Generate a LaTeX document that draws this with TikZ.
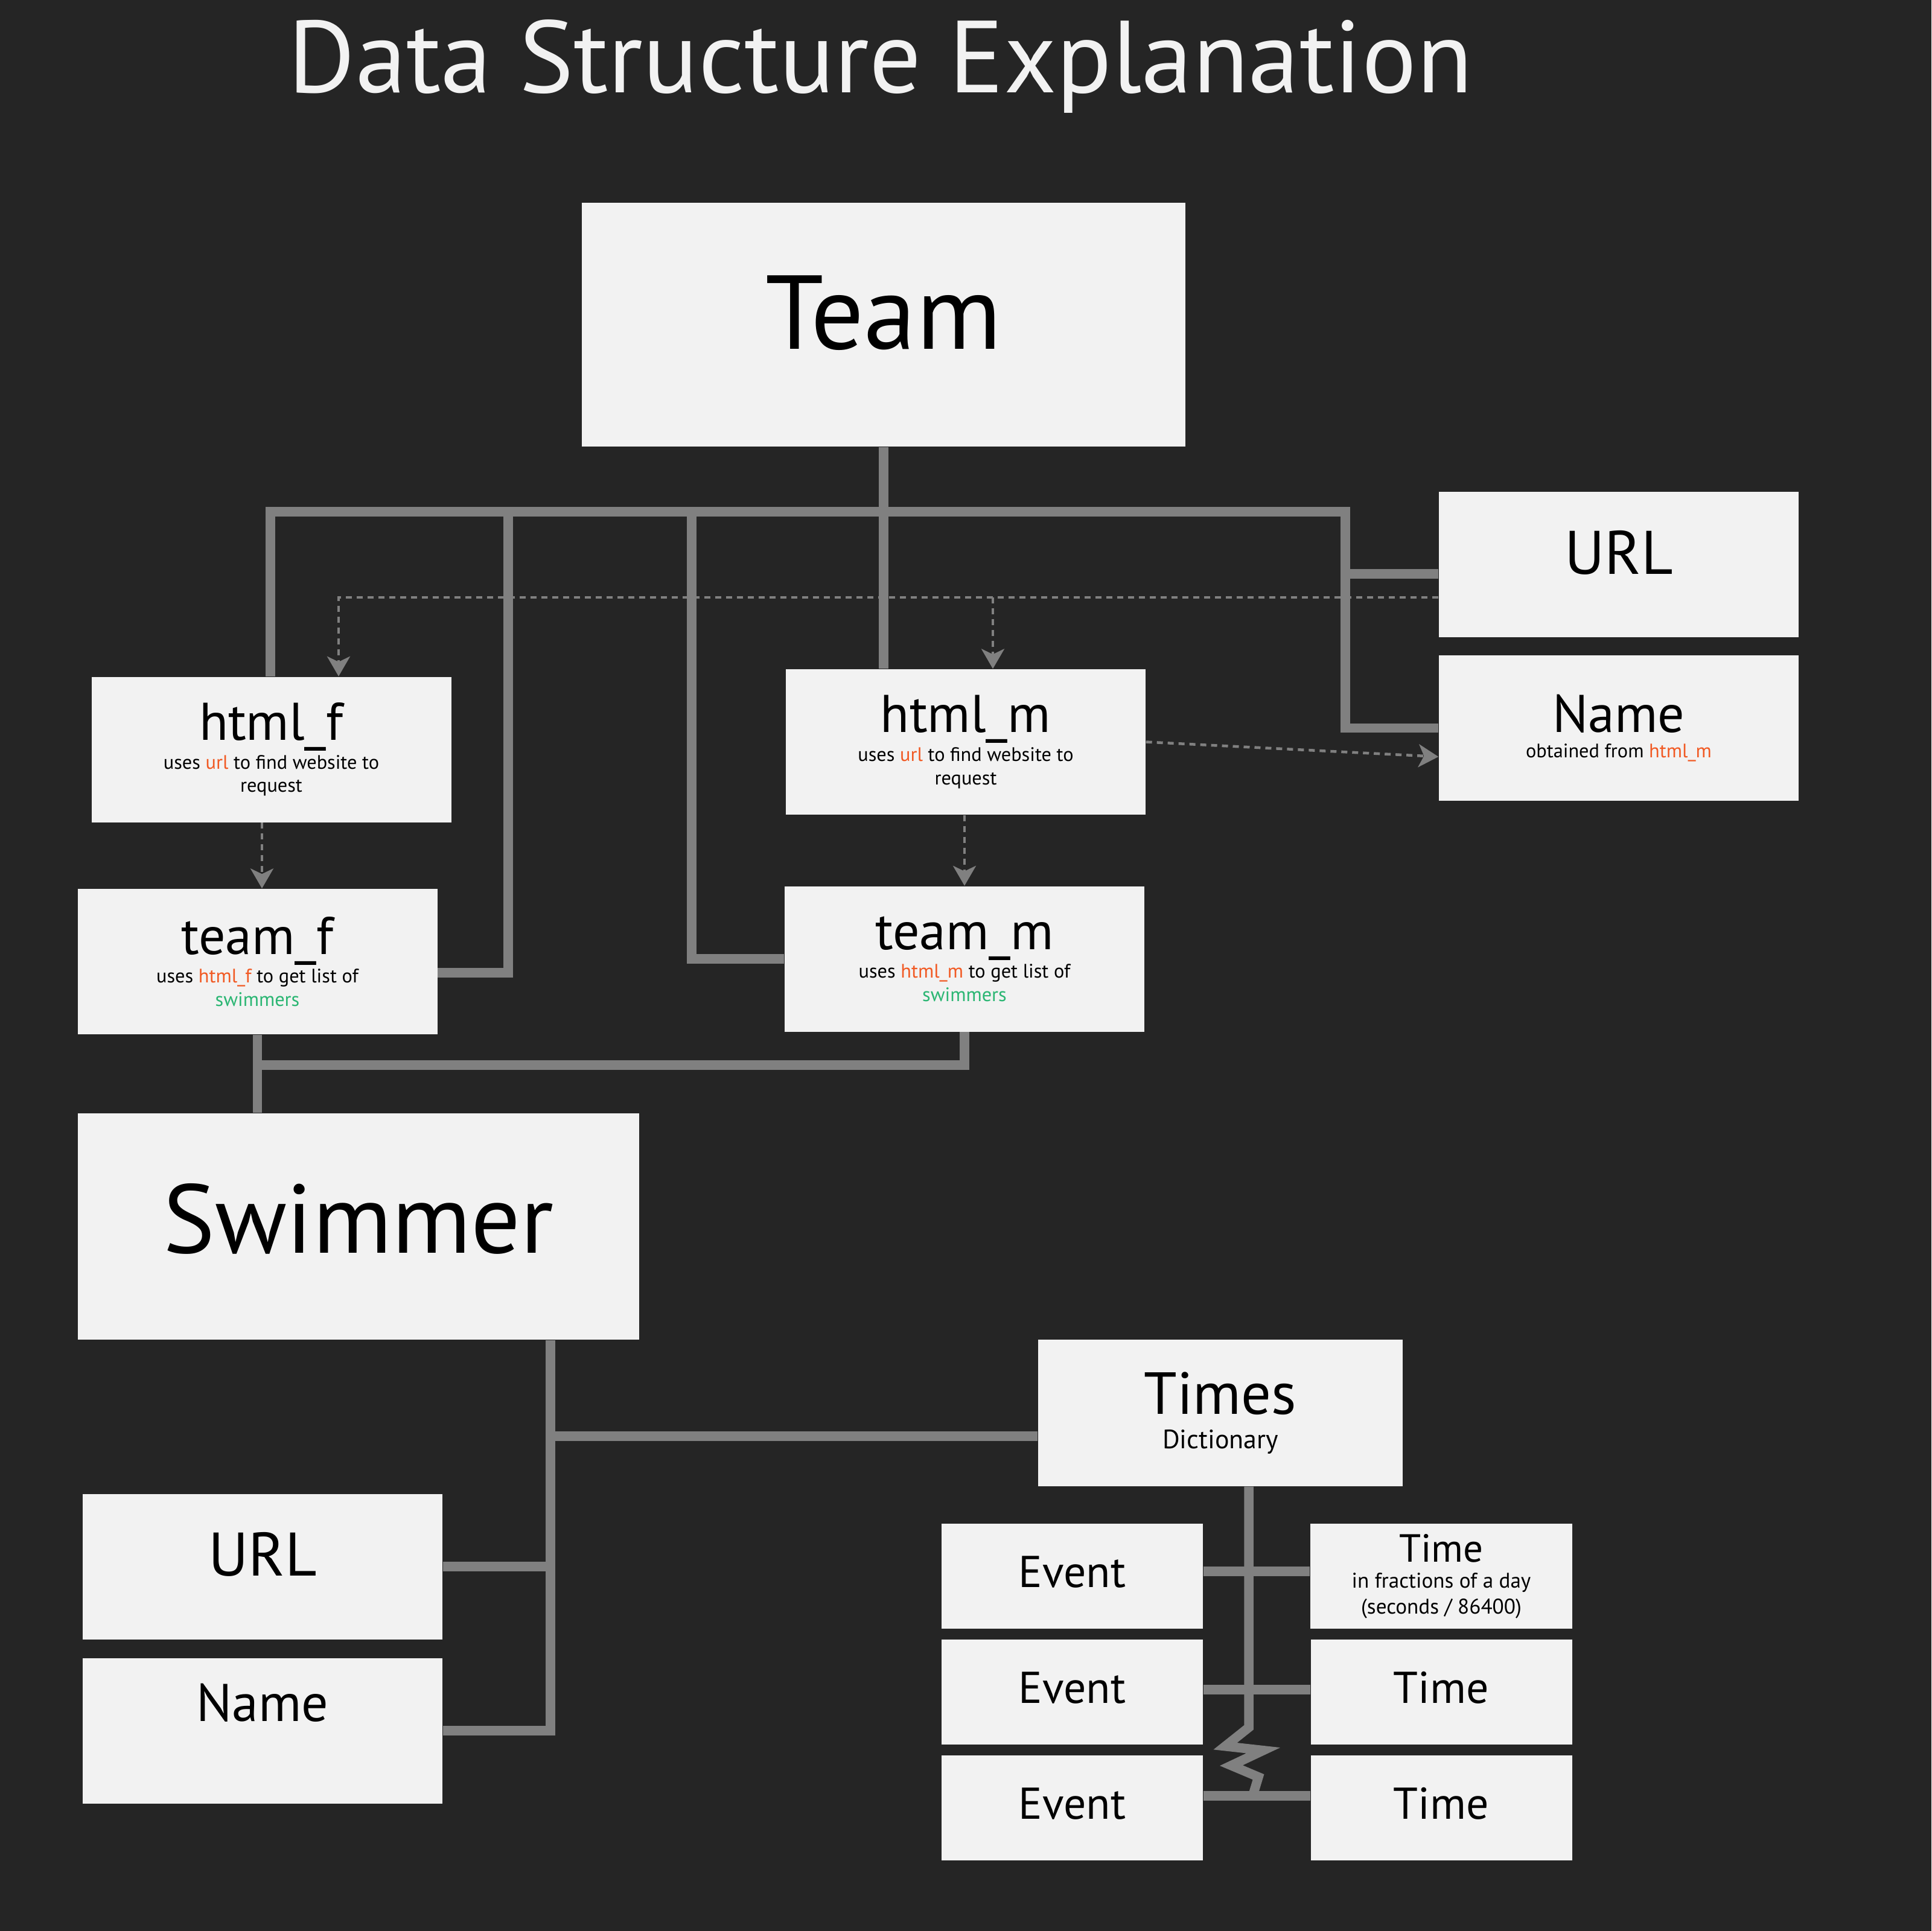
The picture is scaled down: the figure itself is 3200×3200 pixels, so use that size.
\documentclass[tikz,border=0pt]{standalone}
\usepackage{fontspec}
\setmainfont{PT Sans}
\usetikzlibrary{arrows.meta}
\definecolor{bgdark}{HTML}{252525}
\definecolor{boxfill}{HTML}{F2F2F2}
\definecolor{linegray}{HTML}{808080}
\definecolor{accentorange}{HTML}{F15A24}
\definecolor{accentgreen}{HTML}{2BB673}
\newcommand{\smalltext}{\fontsize{9.2}{11}\selectfont}
\newcommand{\orange}[1]{\textcolor{accentorange}{#1}}
\newcommand{\green}[1]{\textcolor{accentgreen}{#1}}
\begin{document}
\begin{tikzpicture}[x=0.1mm,y=-0.1mm,
  box/.style={fill=boxfill, text=black, inner sep=0pt, align=center,
    minimum width=59.6mm, minimum height=24.1mm},
  varbox/.style={box, font=\fontsize{25}{13.5}\selectfont},
  urlbox/.style={box, font=\fontsize{29}{29}\selectfont, text height=7.2mm, text depth=4.1mm},
  eventbox/.style={box, minimum width=43.3mm, minimum height=17.4mm,
    font=\fontsize{21}{21}\selectfont, text height=5.2mm, text depth=1.6mm},
  link/.style={draw=linegray, line width=1.55mm, line join=miter},
  dashlink/.style={draw=linegray, line width=0.45mm, dash pattern=on 1mm off 0.8mm,
    -{Stealth[length=3.3mm,width=3.8mm,inset=0.9mm]}}]
\fill[bgdark] (0,0) rectangle (3200,3200);
\useasboundingbox (0,0) rectangle (3200,3200);

\node[text=boxfill, anchor=base, font=\fontsize{48.3}{48.3}\selectfont] (Title) at (1459,153) {Data Structure Explanation};

\node[box, minimum width=100mm, minimum height=40.4mm, font=\fontsize{49.5}{49.5}\selectfont,
  text height=12.2mm, text depth=4.2mm] (Team) at (1464,538) {Team};
\node[urlbox] (Url) at (2682,935.5) {URL};
\node[varbox, font=\fontsize{25}{12}\selectfont] (Name) at (2682,1206.5) {Name\\{\smalltext obtained from \orange{html\_m}}};
\node[varbox] (HtmlF) at (449.5,1242) {html\_f\\{\smalltext uses \orange{url} to find website to}\\[-2.5pt]{\smalltext request}};
\node[varbox] (HtmlM) at (1600,1229.5) {html\_m\\{\smalltext uses \orange{url} to find website to}\\[-2.5pt]{\smalltext request}};
\node[varbox] (TeamF) at (426.5,1593.5) {team\_f\\{\smalltext uses \orange{html\_f} to get list of}\\[-2.5pt]{\smalltext \green{swimmers}}};
\node[varbox] (TeamM) at (1598,1589) {team\_m\\{\smalltext uses \orange{html\_m} to get list of}\\[-2.5pt]{\smalltext \green{swimmers}}};

\node[box, minimum width=93mm, minimum height=37.5mm, font=\fontsize{46}{46}\selectfont,
  text height=11.6mm, text depth=2.9mm] (Swimmer) at (594,2032.5) {Swimmer};
\node[box, minimum width=60.4mm, minimum height=24.3mm, font=\fontsize{28}{16.2}\selectfont] (Times) at (2022,2341.5) {Times\\{\fontsize{12.5}{13}\selectfont Dictionary}};
\node[urlbox] (UrlS) at (435,2596) {URL};
\node[box, font=\fontsize{25}{25}\selectfont, text height=6.1mm, text depth=9.3mm] (NameS) at (435,2868) {Name};

\node[eventbox] (E1) at (1776.5,2612) {Event};
\node[eventbox] (E2) at (1776.5,2804) {Event};
\node[eventbox] (E3) at (1776.5,2996) {Event};
\node[box, minimum width=43.4mm, minimum height=17.4mm, font=\fontsize{18.5}{12.2}\selectfont] (T1) at (2388,2612) {Time\\{\fontsize{10}{12.2}\selectfont in fractions of a day}\\{\fontsize{10}{12.2}\selectfont (seconds / 86400)}};
\node[eventbox] (T2) at (2388,2804) {Time};
\node[eventbox] (T3) at (2388,2996) {Time};

\coordinate (BusL) at (448,848);
\coordinate (BusR) at (2229,848);
\coordinate (BusF) at (842,848);
\coordinate (BusM) at (1146,848);
\coordinate (UrlStub) at ([yshift=-1.55mm]Url.west);
\coordinate (TeamFStub) at ([yshift=-1.85mm]TeamF.east);
\coordinate (SwJoin) at (427,1765);
\coordinate (SwTrunk) at ([xshift=31.8mm]Swimmer.south);
\coordinate (TimesStub) at ([yshift=-3.85mm]Times.west);
\coordinate (TimesTrunk) at ([xshift=4.7mm]Times.south);

\draw[link] (Team.south) -- (Team.south |- HtmlM.north);
\draw[link] (BusL |- HtmlF.north) -- (BusL) -- (BusR) -- (BusR |- Name.west) -- (Name.west);
\draw[link] (UrlStub) -- (UrlStub -| BusR);
\draw[link] (BusF) |- (TeamFStub);
\draw[link] (BusM) |- (TeamM.west);
\draw[link] (TeamM.south) |- (SwJoin);
\draw[link] (TeamF.south) -- (Swimmer.north -| TeamF.south);
\draw[link] (SwTrunk) |- (NameS.east);
\draw[link] (UrlS.east) -- (UrlS.east -| SwTrunk);
\draw[link] (TimesStub) -- (TimesStub -| SwTrunk);
\draw[link] (TimesTrunk) -- ++(0,399) -- ++(-39,31) -- ++(63,7) -- ++(-53,25) -- ++(45,19) -- ++(-10,33);
\draw[link] ([yshift=0.8mm]E1.east) -- ([yshift=0.8mm]T1.west);
\draw[link] ([yshift=0.4mm]E2.east) -- ([yshift=0.4mm]T2.west);
\draw[link] ([yshift=2mm]E3.east) -- ([yshift=2mm]T3.west);

\coordinate (DashY) at ([yshift=-5.45mm]Url.west);
\coordinate (FTip) at ([xshift=11.15mm]HtmlF.north);
\coordinate (MTip) at ([xshift=4.5mm]HtmlM.north);
\coordinate (TFTip) at ([xshift=0.75mm]TeamF.north);
\coordinate (NTip) at ([yshift=-4.75mm]Name.west);
\draw[dashlink] (DashY) -| (FTip);
\draw[dashlink] (DashY -| MTip) -- (MTip);
\draw[dashlink] (HtmlF.south -| TFTip) -- (TFTip);
\draw[dashlink] (HtmlM.south -| TeamM.north) -- (TeamM.north);
\draw[dashlink] (HtmlM.east) -- (NTip);

\end{tikzpicture}
\end{document}
